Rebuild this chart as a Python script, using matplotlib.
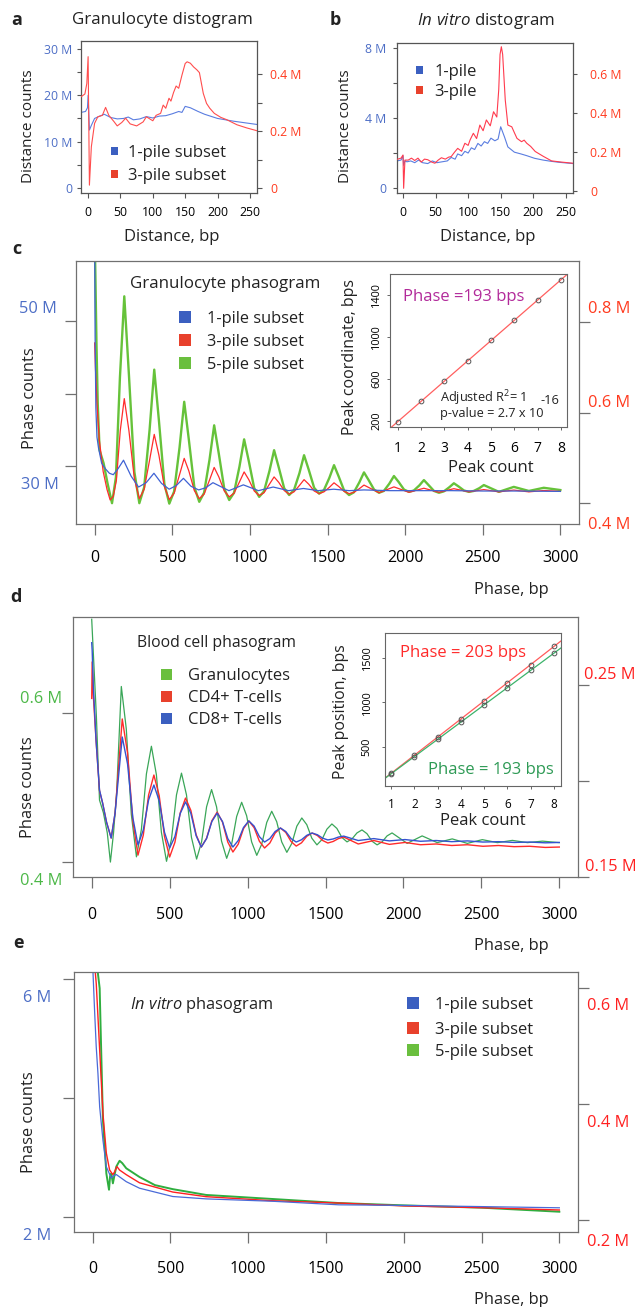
import numpy as np
import matplotlib
matplotlib.use('Agg')
import matplotlib.pyplot as plt
from matplotlib.patches import Rectangle

plt.rcParams['font.family'] = ['Open Sans', 'DejaVu Sans']
plt.rcParams['mathtext.fontset'] = 'custom'
plt.rcParams['mathtext.rm'] = 'Open Sans'
plt.rcParams['mathtext.it'] = 'Open Sans:italic'
plt.rcParams['text.color'] = '#222222'

# ---- panel a: granulocyte distogram (blue in M, red in M on right axis)
a_blue_bp = [-11, -4, -1, 0, 2, 5, 10, 18, 25, 35, 45, 55, 62, 70, 80, 90, 100,
             110, 120, 130, 140, 145, 150, 158, 170, 180, 200, 225, 261]
a_blue = [16.3, 16.5, 17.3, 20.0, 12.5, 13.5, 15.0, 15.5, 15.9, 15.2, 14.9, 15.0,
          15.3, 14.7, 14.9, 15.4, 15.1, 15.5, 15.6, 16.0, 16.5, 16.3, 17.6, 17.3,
          16.5, 15.9, 15.0, 14.4, 13.7]
a_red_bp = [-11, -5, -2, 0, 2, 5, 10, 15, 22, 27, 32, 40, 45, 52, 58, 65, 75, 85,
            90, 100, 105, 112, 116, 120, 125, 128, 132, 136, 140, 145, 150, 153,
            158, 163, 168, 172, 178, 183, 188, 195, 205, 214, 230, 245, 261]
a_red = [0.320, 0.330, 0.367, 0.461, 0.010, 0.145, 0.227, 0.250, 0.255, 0.283,
         0.255, 0.233, 0.218, 0.230, 0.245, 0.225, 0.218, 0.232, 0.250, 0.236,
         0.255, 0.262, 0.291, 0.280, 0.315, 0.305, 0.335, 0.358, 0.350, 0.396,
         0.437, 0.443, 0.438, 0.425, 0.415, 0.405, 0.332, 0.297, 0.280, 0.262,
         0.248, 0.240, 0.222, 0.211, 0.201]

# ---- panel b: in vitro distogram
b_blue_bp = [-9, -3, 0, 1, 3, 6, 12, 18, 24, 30, 38, 45, 52, 60, 68, 74, 80, 84,
             90, 95, 100, 105, 110, 115, 120, 125, 130, 135, 141, 146, 150, 153,
             156, 161, 166, 171, 181, 190, 202, 215, 227, 240, 261]
b_blue = [1.55, 1.60, 1.85, 1.30, 1.55, 1.50, 1.55, 1.45, 1.60, 1.45, 1.40, 1.55,
          1.45, 1.50, 1.55, 1.75, 1.65, 1.95, 1.85, 2.10, 2.00, 2.30, 2.20, 2.55,
          2.40, 2.65, 2.55, 2.85, 2.70, 2.80, 3.50, 3.20, 2.90, 2.35, 2.20, 2.05,
          1.95, 1.85, 1.70, 1.60, 1.53, 1.47, 1.40]
b_red_bp = [-9, -3, 0, 1, 3, 8, 13, 18, 23, 28, 33, 38, 44, 49, 54, 59, 65, 70,
            74, 79, 84, 90, 95, 100, 103, 108, 113, 118, 123, 128, 134, 139, 144,
            147, 149, 151, 153, 157, 161, 167, 171, 175, 182, 186, 190, 196, 203,
            215, 228, 243, 261]
b_red = [0.164, 0.170, 0.186, 0.016, 0.160, 0.160, 0.170, 0.158, 0.170, 0.150,
         0.165, 0.162, 0.150, 0.144, 0.160, 0.172, 0.165, 0.175, 0.178, 0.200,
         0.220, 0.205, 0.246, 0.235, 0.263, 0.297, 0.270, 0.339, 0.310, 0.365,
         0.335, 0.407, 0.380, 0.520, 0.700, 0.739, 0.700, 0.467, 0.339, 0.330,
         0.300, 0.271, 0.254, 0.262, 0.246, 0.230, 0.204, 0.180, 0.156, 0.150,
         0.144]

# ---- panel c: granulocyte phasogram (blue left axis, red/green right axis)
c_blue_bp = [0, 3, 8, 15, 25, 45, 70, 95, 120, 150, 186, 235, 283, 332, 382, 431,
             480, 526, 572, 621, 670, 716, 762, 865, 958, 1055, 1150, 1250, 1345,
             1440, 1540, 1640, 1735, 1900, 2100, 2300, 2500, 2700, 3000]
c_blue = [62, 48, 38, 34, 32.5, 30.4, 29.6, 29.0, 28.8, 29.6, 30.8, 28.6, 27.1,
          27.7, 29.0, 27.6, 26.8, 27.3, 28.3, 27.2, 26.7, 27.0, 27.7, 26.6, 27.4,
          26.6, 27.1, 26.6, 26.9, 26.6, 26.8, 26.6, 26.7, 26.6, 26.6, 26.6, 26.55,
          26.55, 26.5]
c_red_bp = [0, 5, 15, 30, 55, 80, 100, 120, 140, 165,
            191, 221, 256, 288, 319, 354,
            384, 414, 449, 481, 512, 547,
            577, 607, 642, 674, 705, 740,
            770, 800, 835, 867, 898, 933,
            963, 993, 1028, 1060, 1091, 1126,
            1156, 1186, 1221, 1253, 1284, 1319,
            1349, 1379, 1414, 1446, 1477, 1512,
            1542, 1572, 1607, 1639, 1670, 1705,
            1735, 1832, 1928, 2025, 2121, 2218, 2314, 2411, 2507, 2604, 2700,
            2797, 2893, 3000]
c_red = [0.754, 0.70, 0.62, 0.54, 0.47, 0.43, 0.407, 0.415, 0.45, 0.56,
         0.631, 0.560, 0.454, 0.410, 0.431, 0.495,
         0.552, 0.506, 0.437, 0.408, 0.422, 0.463,
         0.499, 0.471, 0.428, 0.410, 0.420, 0.451,
         0.479, 0.458, 0.427, 0.414, 0.422, 0.447,
         0.469, 0.452, 0.427, 0.417, 0.423, 0.442,
         0.458, 0.446, 0.428, 0.420, 0.425, 0.439,
         0.452, 0.442, 0.427, 0.421, 0.425, 0.435,
         0.445, 0.437, 0.426, 0.421, 0.424, 0.432,
         0.440, 0.423, 0.436, 0.424, 0.433, 0.424, 0.432, 0.425, 0.430, 0.425,
         0.429, 0.425, 0.428, 0.426]
c_green_bp = [0, 5, 12, 20, 32, 58, 83, 112, 137, 163,
              191, 221, 256, 288, 319, 354,
              384, 414, 449, 481, 512, 547,
              577, 607, 642, 674, 705, 740,
              770, 800, 835, 867, 898, 933,
              963, 993, 1028, 1060, 1091, 1126,
              1156, 1186, 1221, 1253, 1284, 1319,
              1349, 1379, 1414, 1446, 1477, 1512,
              1542, 1572, 1607, 1639, 1670, 1705,
              1735, 1765, 1800, 1832, 1863, 1898,
              1928, 1958, 1993, 2025, 2056, 2091,
              2121, 2151, 2186, 2218, 2249, 2284,
              2314, 2344, 2379, 2411, 2442, 2477,
              2507, 2604, 2700, 2797, 2893, 3000]
c_green = [1.0, 0.90, 0.75, 0.62, 0.517, 0.488, 0.444, 0.400, 0.457, 0.678,
           0.857, 0.683, 0.469, 0.400, 0.435, 0.562,
           0.695, 0.583, 0.443, 0.399, 0.426, 0.523,
           0.624, 0.540, 0.436, 0.403, 0.423, 0.496,
           0.572, 0.509, 0.432, 0.407, 0.423, 0.481,
           0.541, 0.493, 0.433, 0.414, 0.426, 0.471,
           0.517, 0.479, 0.433, 0.418, 0.429, 0.466,
           0.506, 0.474, 0.434, 0.421, 0.429, 0.456,
           0.484, 0.459, 0.428, 0.418, 0.424, 0.446,
           0.468, 0.451, 0.430, 0.423, 0.427, 0.443,
           0.460, 0.447, 0.430, 0.425, 0.428, 0.439,
           0.451, 0.440, 0.427, 0.423, 0.426, 0.435,
           0.444, 0.437, 0.428, 0.425, 0.427, 0.433,
           0.440, 0.425, 0.436, 0.427, 0.434, 0.429]
c_peak_count = [1, 2, 3, 4, 5, 6, 7, 8]
c_peak_pos = [191, 384, 578, 771, 964, 1157, 1350, 1542]

# ---- panel d: blood cell phasogram (green left axis, red/blue right axis)
d_green_bp = [0, 15, 30, 50, 75, 100, 120, 140, 160,
              190, 222, 254, 287, 319, 351,
              383, 415, 447, 480, 512, 544,
              576, 608, 640, 673, 705, 737,
              769, 801, 833, 866, 898, 930,
              962, 994, 1026, 1059, 1091, 1123,
              1155, 1187, 1219, 1252, 1284, 1316,
              1348, 1380, 1412, 1445, 1477, 1509,
              1541, 1573, 1605, 1638, 1670, 1702,
              1734, 1766, 1798, 1831, 1863, 1895,
              1927, 2024, 2120, 2217, 2313, 2410, 2506, 2603, 2699, 2796, 2892,
              3000]
d_green = [0.725, 0.66, 0.595, 0.483, 0.466, 0.439, 0.400, 0.439, 0.493,
           0.635, 0.578, 0.464, 0.407, 0.444, 0.518,
           0.555, 0.517, 0.440, 0.401, 0.431, 0.490,
           0.519, 0.490, 0.433, 0.404, 0.427, 0.474,
           0.497, 0.474, 0.428, 0.405, 0.424, 0.461,
           0.480, 0.462, 0.427, 0.409, 0.424, 0.453,
           0.468, 0.454, 0.427, 0.413, 0.425, 0.448,
           0.459, 0.450, 0.432, 0.423, 0.430, 0.444,
           0.451, 0.445, 0.433, 0.427, 0.431, 0.439,
           0.443, 0.438, 0.428, 0.423, 0.427, 0.435,
           0.439, 0.425, 0.435, 0.426, 0.431, 0.425, 0.430, 0.426, 0.429, 0.426,
           0.428, 0.426]
d_rb_bp = [0, 3, 10, 28, 50, 70, 95, 125, 150,
           196, 230, 264, 297, 331, 365,
           399, 433, 467, 500, 534, 568,
           602, 636, 670, 703, 737, 771,
           805, 839, 873, 906, 940, 974,
           1008, 1042, 1076, 1109, 1143, 1177,
           1211, 1245, 1279, 1312, 1346, 1380,
           1414, 1448, 1482, 1515, 1549, 1583,
           1617, 1710, 1810, 1910, 2010, 2110, 2210, 2310, 2410, 2510, 2610,
           2710, 2810, 2910, 3000]
d_red = [0.243, 0.262, 0.245, 0.221, 0.195, 0.1885, 0.1786, 0.1703, 0.1833,
         0.2323, 0.2146, 0.1791, 0.1614, 0.1718, 0.1927,
         0.2031, 0.1924, 0.1711, 0.1604, 0.1681, 0.1834,
         0.1911, 0.1847, 0.1720, 0.1656, 0.1702, 0.1793,
         0.1838, 0.1786, 0.1682, 0.1630, 0.1671, 0.1752,
         0.1792, 0.1757, 0.1686, 0.1651, 0.1677, 0.1729,
         0.1755, 0.1732, 0.1685, 0.1661, 0.1678, 0.1712,
         0.1729, 0.1716, 0.1690, 0.1677, 0.1685, 0.1700,
         0.1708, 0.1672, 0.1690, 0.1670, 0.1680, 0.1668, 0.1672, 0.1664,
         0.1668, 0.1660, 0.1664, 0.1658, 0.1660, 0.1654, 0.1656]
d_blue = [0.272, 0.268, 0.250, 0.221, 0.1953, 0.1885, 0.1786, 0.1703, 0.1833,
          0.2229, 0.2089, 0.1808, 0.1667, 0.1745, 0.1901,
          0.1979, 0.1897, 0.1733, 0.1651, 0.1711, 0.1831,
          0.1891, 0.1832, 0.1715, 0.1656, 0.1700, 0.1789,
          0.1833, 0.1789, 0.1700, 0.1656, 0.1690, 0.1758,
          0.1792, 0.1765, 0.1710, 0.1682, 0.1700, 0.1737,
          0.1755, 0.1737, 0.1700, 0.1682, 0.1694, 0.1717,
          0.1729, 0.1720, 0.1702, 0.1693, 0.1698, 0.1708,
          0.1713, 0.1690, 0.1700, 0.1688, 0.1695, 0.1686, 0.1690, 0.1684,
          0.1688, 0.1682, 0.1684, 0.1680, 0.1682, 0.1678, 0.1680]
d_peak_count = [1, 2, 3, 4, 5, 6, 7, 8]
d_peak_gran = [200, 393, 586, 779, 972, 1165, 1358, 1551]
d_peak_cd4 = [205, 408, 611, 814, 1017, 1220, 1423, 1626]

# ---- panel e: in vitro phasogram (blue left axis, red/green right axis)
e_blue_bp = [0, 2, 13, 23, 34, 45, 66, 88, 120, 135, 152, 216, 301, 515, 729,
             1156, 1583, 2000, 2500, 3000]
e_blue = [6.6, 6.12, 5.43, 4.86, 4.41, 3.85, 3.29, 2.84, 2.65, 2.69, 2.71, 2.59,
          2.48, 2.34, 2.30, 2.26, 2.20, 2.19, 2.17, 2.15]
e_red_bp = [0, 13, 23, 34, 45, 66, 88, 109, 130, 141, 156, 173, 216, 301, 515,
            729, 1156, 1583, 2000, 2500, 3000]
e_red = [0.70, 0.64, 0.608, 0.551, 0.493, 0.384, 0.315, 0.286, 0.278, 0.283,
         0.292, 0.286, 0.278, 0.264, 0.248, 0.240, 0.233, 0.229, 0.224, 0.221,
         0.217]
e_green_bp = [0, 23, 45, 51, 66, 88, 105, 112, 120, 130, 141, 152, 173, 190, 216,
              301, 400, 515, 729, 1156, 1583, 2000, 2500, 3000]
e_green = [0.75, 0.65, 0.60, 0.533, 0.372, 0.280, 0.252, 0.275, 0.280, 0.263,
           0.278, 0.292, 0.302, 0.298, 0.289, 0.274, 0.260, 0.253, 0.243, 0.236,
           0.229, 0.225, 0.221, 0.214]

subset_labels = ['1-pile subset', '3-pile subset', '5-pile subset']
cell_labels = ['Granulocytes', 'CD4+ T-cells', 'CD8+ T-cells']

BLUE_T = '#4d6ec6'
RED_T = '#ff3a1e'
RED_D = '#ff2020'
GREEN_T = '#4cb848'
SQ_BLUE, SQ_RED, SQ_GREEN = '#3b5fc0', '#e8412c', '#6abf3e'
GRAY = '#707070'

W, H = 637, 1307
fig = plt.figure(figsize=(W / 100, H / 100), dpi=100)


def box(l, t, r, b):
    return fig.add_axes([l / W, 1 - b / H, (r - l) / W, (b - t) / H])


def ftext(x, y, s, **kw):
    kw.setdefault('ha', 'center')
    kw.setdefault('va', 'center_baseline')
    return fig.text(x / W, 1 - y / H, s, **kw)


def squares(x_sq, x_txt, ys, labels, colors, sq, fs):
    for y, lab, c in zip(ys, labels, colors):
        fig.add_artist(Rectangle(((x_sq - sq / 2) / W, 1 - (y + sq / 2) / H),
                                 sq / W, sq / H, transform=fig.transFigure,
                                 facecolor=c, edgecolor='none'))
        ftext(x_txt, y, lab, ha='left', fontsize=fs)


def frame(ax, color, lw=0.9):
    for s in ax.spines.values():
        s.set_color(color)
        s.set_linewidth(lw)


def twin(ax):
    axr = ax.twinx()
    for s in axr.spines.values():
        s.set_visible(False)
    return axr


# ================= panel a =================
ax = box(81, 41, 257, 193)
axr = twin(ax)
ax.plot(a_blue_bp, a_blue, color='#5a7de0', lw=0.8)
axr.plot(a_red_bp, a_red, color='#ff4d4d', lw=0.8)
ax.set_xlim(-11, 261)
ax.set_ylim(-1.08, 31.7)
axr.set_ylim(-0.0175, 0.516)
ax.set_xticks(range(0, 251, 50))
ax.set_yticks([0, 10, 20, 30], ['0', '10 M', '20 M', '30 M'])
ax.set_yticks([5, 15, 25], minor=True)
axr.set_yticks([0, 0.2, 0.4], ['0', '0.2 M', '0.4 M'])
axr.set_yticks([0.1, 0.3], minor=True)
frame(ax, '#555555')
ax.tick_params(axis='x', length=3.5, width=0.8, color='#555555', labelsize=8.8, pad=6)
ax.tick_params(axis='y', which='both', length=3.2, width=0.8, color='#555555',
               labelsize=8.8, labelcolor=BLUE_T, pad=3.3)
axr.tick_params(axis='y', which='both', length=3.5, width=0.8, color='#555555',
                labelsize=8.8, labelcolor=RED_T, pad=5.8)

ftext(17, 18, 'a', fontweight='bold', fontsize=13)
ftext(162, 18, 'Granulocyte distogram', fontsize=12.2)
ftext(28, 126, 'Distance counts', rotation=90, va='center', fontsize=11)
ftext(172, 235, 'Distance, bp', fontsize=12)
squares(114.5, 128, [151, 174], subset_labels[:2], [SQ_BLUE, SQ_RED], 7, 12)

# ================= panel b =================
ax = box(397, 43, 573, 193)
axr = twin(ax)
ax.plot(b_blue_bp, b_blue, color='#5a7de0', lw=0.8)
axr.plot(b_red_bp, b_red, color='#ff3b4e', lw=0.8)
ax.set_xlim(-9.2, 261)
ax.set_ylim(-0.28, 8.28)
axr.set_ylim(-0.008, 0.758)
ax.set_xticks(range(0, 251, 50))
ax.set_yticks([0, 4, 8], ['0', '4 M', '8 M'])
ax.set_yticks([2, 6], minor=True)
axr.set_yticks([0, 0.2, 0.4, 0.6], ['0', '0.2 M', '0.4 M', '0.6 M'])
frame(ax, '#555555')
ax.tick_params(axis='x', length=3.5, width=0.8, color='#555555', labelsize=8.8, pad=6)
ax.tick_params(axis='y', which='both', length=3.2, width=0.8, color='#555555',
               labelsize=8.8, labelcolor=BLUE_T, pad=4.8)
axr.tick_params(axis='y', which='both', length=3.2, width=0.8, color='#555555',
                labelsize=8.8, labelcolor=RED_T, pad=9)

ftext(335.5, 18, 'b', fontweight='bold', fontsize=13)
ftext(485.5, 18, r'$\mathit{In\ vitro}$ distogram', fontsize=12.2)
ftext(345.5, 126, 'Distance counts', rotation=90, va='center', fontsize=11)
ftext(488, 235, 'Distance, bp', fontsize=12)
squares(419, 434.7, [70, 90], ['1-pile', '3-pile'], [SQ_BLUE, SQ_RED], 7, 12)


# ================= phasogram helpers =================
def phaso(rect, ylim_l, ylim_r, lticks, rticks, xpad):
    ax = box(*rect)
    axr = twin(ax)
    ax.set_xlim(-120, 3120)
    ax.set_ylim(*ylim_l)
    axr.set_ylim(*ylim_r)
    ax.set_xticks(range(0, 3001, 500))
    ax.set_yticks(lticks)
    axr.set_yticks(rticks)
    frame(ax, GRAY)
    ax.tick_params(axis='x', length=8, width=0.9, color=GRAY, labelsize=11.5, pad=xpad)
    ax.tick_params(axis='y', length=8, width=0.9, color=GRAY, labelleft=False)
    axr.tick_params(axis='y', length=8, width=0.9, color=GRAY, labelright=False)
    return ax, axr


def inset(rect, xlim, ylim, yticks, xls, xpad, ypad):
    ins = box(*rect)
    ins.set_xlim(*xlim)
    ins.set_ylim(*ylim)
    ins.set_xticks(range(1, 9))
    ins.set_yticks(yticks)
    frame(ins, '#666666', 0.8)
    ins.tick_params(axis='x', length=2.5, width=0.7, color='#666666', labelsize=xls, pad=xpad)
    ins.tick_params(axis='y', length=2.5, width=0.7, color='#666666', labelsize=7.8,
                    labelrotation=90, pad=ypad)
    for lab in ins.get_yticklabels():
        lab.set_va('center')
    return ins


# ================= panel c =================
ax, axr = phaso((76, 261, 579, 524), (22.0, 58.28), (0.354, 0.935),
                [30, 40, 50], [0.4, 0.6, 0.8], 10.8)
axr.plot(c_green_bp, c_green, color='#66c23a', lw=1.7, zorder=1)
axr.plot(c_red_bp, c_red, color='#ff2b2b', lw=0.9, zorder=2)
ax.plot(c_blue_bp, c_blue, color='#3f62d4', lw=0.9)
ax.set_zorder(axr.get_zorder() + 1)
ax.patch.set_visible(False)

ins = inset((390, 274, 567, 427), (0.66, 8.26), (139, 1598), [200, 600, 1000, 1400],
            10, 7.7, 3)
m, b0 = np.polyfit(c_peak_count, c_peak_pos, 1)
ins.axline((0, b0), slope=m, color='#ff5f5f', lw=0.9, zorder=1)
ins.plot(c_peak_count, c_peak_pos, 'o', ms=3.4, mfc='none', mec='#555555', mew=0.7)

ftext(17, 247, 'c', fontweight='bold', fontsize=13)
ftext(225.6, 282, 'Granulocyte phasogram', fontsize=12.2)
ftext(29.5, 398, 'Phase counts', rotation=90, va='center', fontsize=11.8)
ftext(511, 588, 'Phase, bp', fontsize=11.8)
ftext(57, 307, '50 M', ha='right', color=BLUE_T, fontsize=11.8)
ftext(59, 483, '30 M', ha='right', color=BLUE_T, fontsize=11.8)
ftext(588, 307, '0.8 M', ha='left', color=RED_T, fontsize=11.8)
ftext(588, 401, '0.6 M', ha='left', color=RED_T, fontsize=11.8)
ftext(588, 523, '0.4 M', ha='left', color=RED_T, fontsize=11.8)
squares(185, 207, [317, 340, 363], subset_labels, [SQ_BLUE, SQ_RED, SQ_GREEN], 12, 11.8)
ftext(350, 357, 'Peak coordinate, bps', rotation=90, va='center', fontsize=11.5)
ftext(491, 466, 'Peak count', fontsize=12)
ftext(403, 295, 'Phase =193 bps', ha='left', color='#b22a9a', fontsize=12)
ftext(440, 395, r'Adjusted R$^2$= 1', ha='left', fontsize=9.2)
ftext(440, 412, 'p-value = 2.7 x 10', ha='left', fontsize=9.2)
ftext(550, 399, '-16', fontsize=9.2)

# ================= panel d =================
ax, axr = phaso((73, 617, 578, 877), (0.380, 0.728), (0.15, 0.2854),
                [0.4, 0.6], [0.15, 0.2, 0.25], 13.5)
ax.plot(d_green_bp, d_green, color='#3aa658', lw=0.9, zorder=1)
axr.plot(d_rb_bp, d_red, color='#ff2b2b', lw=1.0)
axr.plot(d_rb_bp, d_blue, color='#3552d0', lw=1.0)

ins = inset((385, 633, 561, 786), (0.74, 8.30), (64, 1776), [500, 1000, 1500],
            8.5, 5.8, 6.5)
m, b0 = np.polyfit(d_peak_count, d_peak_cd4, 1)
ins.axline((0, b0), slope=m, color='#ff5a5a', lw=0.9, zorder=1)
m, b0 = np.polyfit(d_peak_count, d_peak_gran, 1)
ins.axline((0, b0), slope=m, color='#3cb36a', lw=0.9, zorder=1)
ins.plot(d_peak_count, d_peak_cd4, 'o', ms=3.4, mfc='none', mec='#555555', mew=0.7)
ins.plot(d_peak_count, d_peak_gran, 'o', ms=3.4, mfc='none', mec='#555555', mew=0.7)

ftext(16, 595, 'd', fontweight='bold', fontsize=13)
ftext(216.5, 641, 'Blood cell phasogram', fontsize=11.3)
ftext(28, 787, 'Phase counts', rotation=90, va='center', fontsize=11.8)
ftext(511, 944, 'Phase, bp', fontsize=11.8)
ftext(62, 697, '0.6 M', ha='right', color=GREEN_T, fontsize=11.8)
ftext(62, 879, '0.4 M', ha='right', color=GREEN_T, fontsize=11.8)
ftext(584, 673, '0.25 M', ha='left', color=RED_D, fontsize=11.8)
ftext(585, 865, '0.15 M', ha='left', color=RED_D, fontsize=11.8)
squares(166, 188, [674, 696, 718], cell_labels, [SQ_GREEN, SQ_RED, SQ_BLUE], 11, 12)
ftext(341, 712, 'Peak position, bps', rotation=90, va='center', fontsize=11.4)
ftext(483, 819, 'Peak count', fontsize=12)
ftext(400, 651, 'Phase = 203 bps', ha='left', color='#ff2a2a', fontsize=12)
ftext(554, 768, 'Phase = 193 bps', ha='right', color='#2e9a55', fontsize=12)

# ================= panel e =================
ax, axr = phaso((74, 972, 578, 1232), (1.742, 6.123), (0.179, 0.628),
                [2, 4, 6], [0.2, 0.4, 0.6], 13)
axr.plot(e_green_bp, e_green, color='#2fae3f', lw=1.4, zorder=1)
axr.plot(e_red_bp, e_red, color='#ff2020', lw=1.0, zorder=2)
ax.plot(e_blue_bp, e_blue, color='#4a6ad8', lw=0.9)
ax.set_zorder(axr.get_zorder() + 1)
ax.patch.set_visible(False)

ftext(19, 941, 'e', fontweight='bold', fontsize=13)
ftext(130, 1002, r'$\mathit{In\ vitro}$ phasogram', ha='left', fontsize=11.8)
ftext(29, 1122, 'Phase counts', rotation=90, va='center', fontsize=11.8)
ftext(511, 1297.5, 'Phase, bp', fontsize=11.8)
ftext(51, 996, '6 M', ha='right', color=BLUE_T, fontsize=11.8)
ftext(51, 1234, '2 M', ha='right', color=BLUE_T, fontsize=11.8)
ftext(587, 1004, '0.6 M', ha='left', color=RED_D, fontsize=11.8)
ftext(587, 1121, '0.4 M', ha='left', color=RED_D, fontsize=11.8)
ftext(587, 1240, '0.2 M', ha='left', color=RED_D, fontsize=11.8)
squares(412.6, 435, [1003, 1028, 1050], subset_labels, [SQ_BLUE, SQ_RED, SQ_GREEN], 12, 12)

fig.savefig('out.png', dpi=100)
